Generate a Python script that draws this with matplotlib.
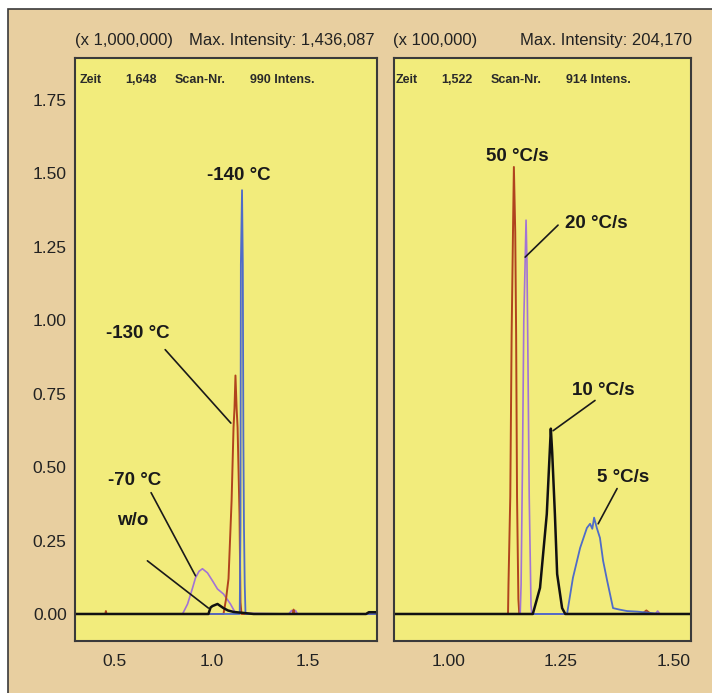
import matplotlib.pyplot as plt
from matplotlib.patches import Rectangle

# ---- data (y in units of the left panel scale) ----
# left panel: freezing temperature series
w_o_x   = [0.30, 0.95, 0.984, 0.995, 1.005, 1.031, 1.062, 1.085, 1.114, 1.218, 1.80, 1.815, 1.85]
w_o_y   = [0, 0, 0, 0.022, 0.027, 0.034, 0.02, 0.012, 0.007, 0, 0, 0.006, 0.006]
m70_x   = [0.30, 0.850, 0.876, 0.902, 0.917, 0.935, 0.953, 0.979, 1.005, 1.031, 1.062, 1.098, 1.124,
           1.40, 1.415, 1.425, 1.435, 1.445, 1.46, 1.85]
m70_y   = [0, 0, 0.034, 0.089, 0.123, 0.145, 0.154, 0.14, 0.113, 0.085, 0.068, 0.034, 0.003,
           0, 0.012, 0.004, 0.012, 0, 0, 0]
m130_x  = [0.30, 0.45, 0.453, 0.456, 1.062, 1.075, 1.088, 1.104, 1.114, 1.119, 1.124, 1.130, 1.135,
           1.145, 1.150, 1.155, 1.42, 1.425, 1.43, 1.85]
m130_y  = [0, 0, 0.01, 0, 0, 0.05, 0.12, 0.386, 0.635, 0.70, 0.812, 0.70, 0.635,
           0.34, 0.04, 0, 0, 0.015, 0, 0]
m140_x  = [0.30, 1.146, 1.150, 1.152, 1.158, 1.162, 1.165, 1.168, 1.172, 1.176, 1.85]
m140_y  = [0, 0, 0.3, 1.19, 1.443, 1.19, 0.6, 0.3, 0.1, 0, 0]

# right panel: heating rate series
r50_x = [0.88, 1.133, 1.134, 1.138, 1.141, 1.144, 1.146, 1.149, 1.151, 1.153, 1.156, 1.158,
         1.43, 1.44, 1.45, 1.54]
r50_y = [0, 0, 0.1, 0.4, 0.95, 1.3, 1.522, 1.3, 0.95, 0.4, 0.05, 0, 0, 0.012, 0, 0]
r20_x = [0.88, 1.160, 1.162, 1.165, 1.168, 1.171, 1.173, 1.175, 1.177, 1.180, 1.184, 1.186,
         1.46, 1.465, 1.47, 1.54]
r20_y = [0, 0, 0.1, 0.5, 1.0, 1.2, 1.341, 1.2, 0.9, 0.4, 0.03, 0, 0, 0.01, 0, 0]
r10_x = [0.88, 1.188, 1.204, 1.219, 1.226, 1.228, 1.231, 1.237, 1.242, 1.253, 1.26, 1.54]
r10_y = [0, 0, 0.089, 0.34, 0.566, 0.631, 0.55, 0.34, 0.136, 0.02, 0, 0]
r5_x  = [0.88, 1.264, 1.277, 1.293, 1.308, 1.315, 1.320, 1.324, 1.330, 1.337, 1.344, 1.353,
         1.366, 1.38, 1.397, 1.42, 1.44, 1.47, 1.54]
r5_y  = [0, 0, 0.123, 0.225, 0.293, 0.307, 0.29, 0.328, 0.293, 0.259, 0.181, 0.113,
         0.02, 0.015, 0.01, 0.008, 0.005, 0, 0]

left_ticks = [0.5, 1.0, 1.5]
left_ticklabels = ['0.5', '1.0', '1.5']
right_ticks = [1.00, 1.25, 1.50]
right_ticklabels = ['1.00', '1.25', '1.50']
y_ticks = [0.0, 0.25, 0.5, 0.75, 1.0, 1.25, 1.5, 1.75]

bgColor = '#E8CFA0'
faceColor = '#F2EC7C'
frameColor = '#3a3a3a'
blue = '#4F6CC8'
red = '#B0431E'
purple = '#A273D6'
black = '#111111'

plt.rcParams['font.family'] = ['Liberation Sans', 'DejaVu Sans']

W, H = 712, 693
fig = plt.figure(figsize=(W / 100, H / 100), dpi=100, facecolor='white')

def fx(px):
	return px / W

def fy(py):
	return 1 - py / H

# tan outer frame, kept behind the panels
fig.patches.append(Rectangle((fx(8), -0.1), 1.2, fy(9) + 0.1, transform=fig.transFigure,
                             facecolor=bgColor, edgecolor=frameColor, linewidth=1.2, zorder=-10))

axL = fig.add_axes([fx(75), fy(641), fx(377 - 75), (641 - 58) / H])
axR = fig.add_axes([fx(394), fy(641), fx(691 - 394), (641 - 58) / H])

for ax in (axL, axR):
	ax.set_facecolor(faceColor)
	ax.set_ylim(-0.092, 1.893)
	for s in ax.spines.values():
		s.set_color(frameColor)
		s.set_linewidth(1.5)
	ax.tick_params(length=0, labelsize=12.5, colors='#222222')
	ax.tick_params(axis='x', pad=9)
	ax.tick_params(axis='y', pad=6)

axL.set_xlim(0.293, 1.857)
axR.set_xlim(0.880, 1.539)

axL.plot(m70_x, m70_y, color=purple, lw=1.2)
axL.plot(m130_x, m130_y, color=red, lw=1.4)
axL.plot(m140_x, m140_y, color=blue, lw=1.3)
axL.plot(w_o_x, w_o_y, color=black, lw=1.8)

axR.plot(r50_x, r50_y, color=red, lw=1.4)
axR.plot(r20_x, r20_y, color=purple, lw=1.2)
axR.plot(r5_x, r5_y, color=blue, lw=1.3)
axR.plot(r10_x, r10_y, color=black, lw=1.8)

axL.set_xticks(left_ticks, left_ticklabels)
axL.set_yticks(y_ticks, ['%.2f' % v for v in y_ticks])
axR.set_xticks(right_ticks, right_ticklabels)
axR.set_yticks([])

lab = dict(fontsize=13.5, fontweight='bold', ha='center', va='center', color='#1a1a1a')
line = dict(arrowstyle='-', color='#1a1a1a', lw=1.2, shrinkA=0, shrinkB=0)

# left labels
axL.text(1.14, 1.494, '-140 °C', **lab)
axL.text(0.62, 0.955, '-130 °C', **lab)
axL.annotate('', xy=(1.10, 0.65), xytext=(0.76, 0.90), arrowprops=line)
axL.text(0.60, 0.454, '-70 °C', **lab)
axL.annotate('', xy=(0.917, 0.13), xytext=(0.687, 0.413), arrowprops=line)
axL.text(0.59, 0.317, 'w/o', **lab)
axL.annotate('', xy=(0.984, 0.02), xytext=(0.668, 0.181), arrowprops=line)

# right labels
axR.text(1.153, 1.556, '50 °C/s', **lab)
axR.text(1.33, 1.331, '20 °C/s', **lab)
axR.annotate('', xy=(1.171, 1.215), xytext=(1.244, 1.324), arrowprops=line)
axR.text(1.344, 0.761, '10 °C/s', **lab)
axR.annotate('', xy=(1.233, 0.624), xytext=(1.326, 0.727), arrowprops=line)
axR.text(1.388, 0.464, '5 °C/s', **lab)
axR.annotate('', xy=(1.333, 0.307), xytext=(1.375, 0.427), arrowprops=line)

# header texts above panels
top = dict(fontsize=12, va='center', color='#222222')
fig.text(fx(75), fy(40), '(x 1,000,000)', ha='left', **top)
fig.text(fx(375), fy(40), 'Max. Intensity: 1,436,087', ha='right', **top)
fig.text(fx(393), fy(40), '(x 100,000)', ha='left', **top)
fig.text(fx(692), fy(40), 'Max. Intensity: 204,170', ha='right', **top)

# scan info inside panels
info = dict(fontsize=9, fontweight='bold', va='center', color='#2a2a2a')
for x0, vals in [(80, ['Zeit', '1,648', 'Scan-Nr.', '990 Intens.']),
                 (396, ['Zeit', '1,522', 'Scan-Nr.', '914 Intens.'])]:
	offs = [0, 45, 95, 170]
	for o, t in zip(offs, vals):
		fig.text(fx(x0 + o), fy(80), t, ha='left', **info)

fig.savefig('out.png', dpi=100, facecolor='white')
